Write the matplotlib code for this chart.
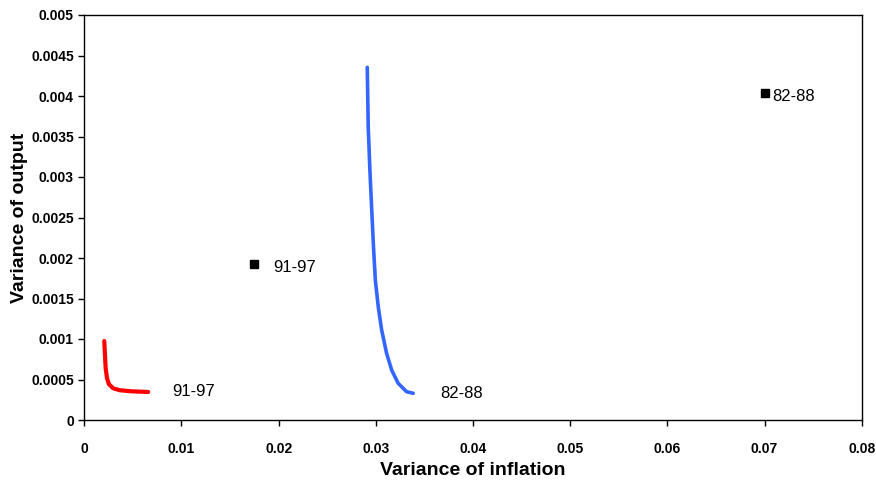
import matplotlib
matplotlib.use("Agg")
import matplotlib.pyplot as plt

# Frontier for 1991-97 (red)
red_x = [0.00206, 0.00213, 0.0022, 0.00234, 0.00254, 0.00298, 0.00367, 0.00488, 0.00658]
red_y = [0.000975, 0.000802, 0.00064, 0.000515, 0.000441, 0.000391, 0.000367, 0.000354, 0.000346]

# Frontier for 1982-88 (blue)
blue_x = [0.02912, 0.02922, 0.02939, 0.02958, 0.02976, 0.02995, 0.03025, 0.0306,
          0.03111, 0.03163, 0.0323, 0.03317, 0.03385]
blue_y = [0.004354, 0.003621, 0.003086, 0.002593, 0.00214, 0.001728, 0.001399, 0.001111,
          0.000823, 0.000617, 0.000453, 0.000349, 0.00033]

# Actual outcomes
point_x = [0.01749, 0.07006]
point_y = [0.001922, 0.004033]
point_labels = ["91-97", "82-88"]

curve_labels = ["91-97", "82-88"]
curve_label_x = [0.00904, 0.0366]
curve_label_y = [0.000346, 0.000333]

x_ticks = [0, 0.01, 0.02, 0.03, 0.04, 0.05, 0.06, 0.07, 0.08]
y_ticks = [0, 0.0005, 0.001, 0.0015, 0.002, 0.0025, 0.003, 0.0035, 0.004, 0.0045, 0.005]

plt.rcParams["font.family"] = ["Liberation Sans", "DejaVu Sans"]

fig = plt.figure(figsize=(8.76, 4.8), dpi=100)
ax = fig.add_axes([0.0962, 0.125, 0.8875, 0.84375])

ax.plot(red_x, red_y, color="#ff0000", linewidth=3,
        solid_capstyle="round", solid_joinstyle="round")
ax.plot(blue_x, blue_y, color="#3366ff", linewidth=2.6,
        solid_capstyle="round", solid_joinstyle="round")
ax.plot(point_x, point_y, linestyle="None", marker="s", color="black", markersize=6)

for x, y, lab in zip(point_x, point_y, point_labels):
    ax.annotate(lab, (x, y), xytext=(5 if lab == "82-88" else 14, -2),
                textcoords="offset points", fontsize=12, va="center")
for x, y, lab in zip(curve_label_x, curve_label_y, curve_labels):
    ax.text(x, y, lab, fontsize=12, va="center")

ax.set_xlim(0, 0.08)
ax.set_ylim(0, 0.005)
ax.set_xticks(x_ticks)
ax.set_yticks(y_ticks)
ax.set_xticklabels([f"{t:g}" for t in x_ticks])
ax.set_yticklabels([f"{t:g}" for t in y_ticks])
ax.tick_params(direction="out", length=4, width=1, labelsize=10)
ax.tick_params(axis="x", pad=12)
for lab in ax.get_xticklabels() + ax.get_yticklabels():
    lab.set_fontweight("bold")
for sp in ax.spines.values():
    sp.set_linewidth(1)

ax.set_xlabel("Variance of inflation", fontsize=14, fontweight="bold", labelpad=4)
ax.set_ylabel("Variance of output", fontsize=14, fontweight="bold", labelpad=2)

fig.savefig("out.png", dpi=100)
